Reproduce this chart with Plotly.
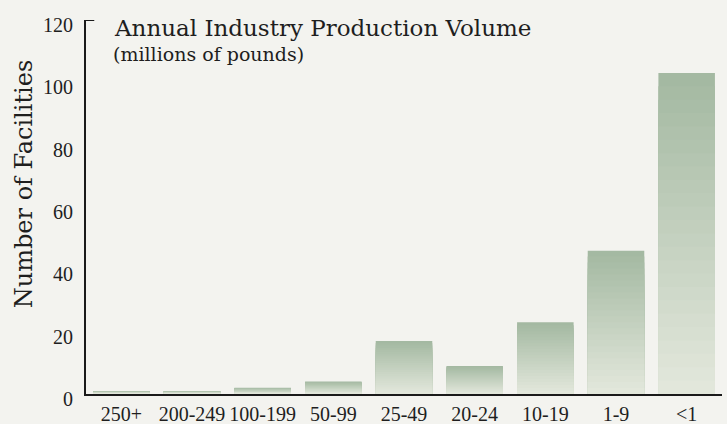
import plotly.graph_objects as go

categories = ["250+", "200-249", "100-199", "50-99", "25-49", "20-24", "10-19", "1-9", "<1"]
facilities = [1, 1, 2, 4, 17, 9, 23, 46, 103]
y_ticks = [0, 20, 40, 60, 80, 100, 120]

TOP = (164, 185, 162)
BOTTOM = (226, 231, 219)
N = 24

fig = go.Figure()
for k in range(N):
    t = k / (N - 1)
    c = tuple(round(TOP[i] + (BOTTOM[i] - TOP[i]) * t) for i in range(3))
    frac = (N - k) / N
    fig.add_trace(go.Bar(
        x=categories,
        y=[v * frac for v in facilities],
        marker=dict(color="rgb(%d,%d,%d)" % c, line=dict(width=0)),
        showlegend=False,
        hoverinfo="skip" if k else None,
    ))

fig.update_layout(
    width=727, height=424,
    margin=dict(l=86, r=5, t=20, b=30, autoexpand=False),
    paper_bgcolor="#f3f3ef",
    plot_bgcolor="#f3f3ef",
    barmode="overlay",
    bargap=0.2,
    font=dict(family="Liberation Serif", color="#1e1e1e", size=20),
    xaxis=dict(
        type="category", automargin=False,
        showline=True, linecolor="#1a1a1a", linewidth=2,
        showgrid=False, zeroline=False, ticks="",
        ticklabelstandoff=1,
        tickfont=dict(family="Liberation Serif", size=20, color="#1e1e1e"),
    ),
    yaxis=dict(
        range=[0, y_ticks[-1]], automargin=False,
        tickvals=y_ticks,
        showline=True, linecolor="#1a1a1a", linewidth=2,
        showgrid=False, zeroline=False, ticks="",
        ticklabelstandoff=7,
        ticklabelshift=5,
        tickfont=dict(family="Liberation Serif", size=20, color="#1e1e1e"),
    ),
    shapes=[
        # small bracket tick at the top of the value axis
        dict(type="line", xref="x domain", yref="y", x0=0, x1=0.013,
             y0=y_ticks[-1], y1=y_ticks[-1], line=dict(color="#1a1a1a", width=2)),
    ],
    annotations=[
        dict(text="Number of Facilities", xref="paper", yref="paper",
             x=-0.098, y=0.56, xanchor="center", yanchor="middle", textangle=-90,
             showarrow=False,
             font=dict(family="DejaVu Serif", size=24, color="#1e1e1e")),
        dict(text="Annual Industry Production Volume", xref="paper", yref="paper",
             x=0.041, y=1.019, xanchor="left", yanchor="top", showarrow=False,
             font=dict(family="DejaVu Serif", size=23, color="#1e1e1e")),
        dict(text="(millions of pounds)", xref="paper", yref="paper",
             x=0.039, y=0.944, xanchor="left", yanchor="top", showarrow=False,
             font=dict(family="DejaVu Serif", size=19, color="#1e1e1e")),
    ],
)

fig.write_html("out.html", config={"displayModeBar": False},
               post_script="document.body.style.margin='0';")
